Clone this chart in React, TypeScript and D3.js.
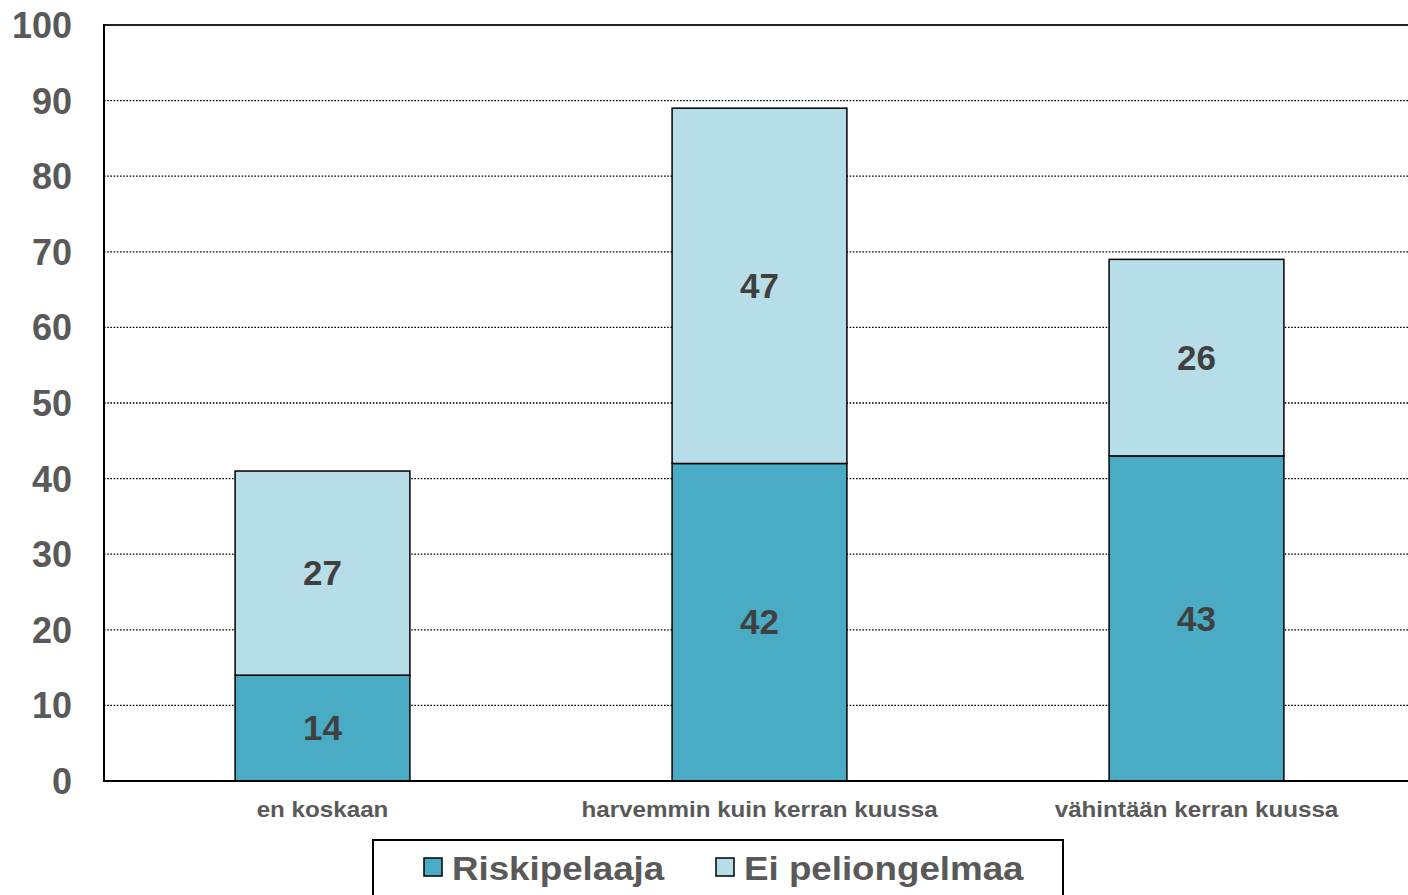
import React from 'react';
import * as d3 from 'd3';

const categories = ['en koskaan', 'harvemmin kuin kerran kuussa', 'vähintään kerran kuussa'];
const riskipelaaja = [14, 42, 43];
const eiPeliongelmaa = [27, 47, 26];
const seriesNames = ['Riskipelaaja', 'Ei peliongelmaa'];
const yTickValues = [0, 10, 20, 30, 40, 50, 60, 70, 80, 90, 100];

const width = 1408;
const height = 895;
const marginLeft = 104;
const marginTop = 25;
const plotBottom = 781;
const plotWidth = 1311;
const colors = ['#4AABC5', '#B7DDE8'];
const textGray = '#595959';
const labelGray = '#404040';
const font = '"Liberation Sans", Arial, Helvetica, sans-serif';

const App: React.FC = () => {
  const xScale = d3.scaleBand<string>().domain(categories).range([marginLeft, marginLeft + plotWidth]);
  const yScale = d3.scaleLinear().domain([0, 100]).range([plotBottom, marginTop]);
  const barWidth = xScale.bandwidth() * 0.4;

  const rows = categories.map((c, i) => ({category: c, Riskipelaaja: riskipelaaja[i], 'Ei peliongelmaa': eiPeliongelmaa[i]}));
  const stacked = d3.stack<any>().keys(seriesNames)(rows);

  return (
    <svg width={width} height={height} style={{position: 'absolute', left: 0, top: 0, background: 'white'}} fontFamily={font}>
      {/* gridlines */}
      {yTickValues.filter(v => v > 0 && v < 100).map(v => (
        <line key={v} x1={marginLeft} x2={width} y1={yScale(v)} y2={yScale(v)} stroke="black" strokeWidth={1.3} strokeDasharray="1.6 1.6"/>
      ))}
      <line x1={marginLeft} x2={width} y1={yScale(100)} y2={yScale(100)} stroke="#222" strokeWidth={2}/>

      {/* bars */}
      {stacked.map((layer, si) => (
        <g key={layer.key}>
          {layer.map((d, i) => {
            const x = (xScale(categories[i]) as number) + xScale.bandwidth() / 2 - barWidth / 2;
            return (
              <rect key={i} x={x} width={barWidth} y={yScale(d[1])} height={yScale(d[0]) - yScale(d[1])}
                fill={colors[si]} stroke="black" strokeWidth={1.5}/>
            );
          })}
        </g>
      ))}
      {stacked.map((layer, si) => (
        <g key={'lbl' + layer.key}>
          {layer.map((d, i) => (
            <text key={i} x={(xScale(categories[i]) as number) + xScale.bandwidth() / 2} y={yScale((d[0] + d[1]) / 2)}
              dy="0.35em" textAnchor="middle" fontSize={35} fontWeight="bold" fill={labelGray}>
              {d[1] - d[0]}
            </text>
          ))}
        </g>
      ))}

      {/* axes */}
      <line x1={marginLeft} x2={marginLeft} y1={marginTop - 1} y2={plotBottom + 1} stroke="black" strokeWidth={2}/>
      <line x1={marginLeft} x2={width} y1={plotBottom} y2={plotBottom} stroke="black" strokeWidth={2}/>
      {yTickValues.map(v => (
        <text key={v} x={72} y={yScale(v)} dy="0.36em" textAnchor="end" fontSize={36} fontWeight="bold" fill={textGray}>{v}</text>
      ))}
      {categories.map(c => (
        <g key={c} transform={`translate(${(xScale(c) as number) + xScale.bandwidth() / 2}, 817) scale(1.1, 1)`}>
          <text textAnchor="middle" fontSize={22} fontWeight="bold" fill={textGray}>{c}</text>
        </g>
      ))}

      {/* legend */}
      <rect x={373} y={840} width={690} height={80} fill="white" stroke="black" strokeWidth={2}/>
      {seriesNames.map((name, i) => {
        const lx = [424, 716][i];
        return (
          <g key={name}>
            <rect x={lx} y={858} width={18} height={18} fill={colors[i]} stroke="black" strokeWidth={1.5}/>
            <g transform={`translate(${lx + 28}, 880) scale(1.08, 1)`}>
              <text fontSize={34} fontWeight="bold" fill={textGray}>{name}</text>
            </g>
          </g>
        );
      })}
    </svg>
  );
};

export default App;
